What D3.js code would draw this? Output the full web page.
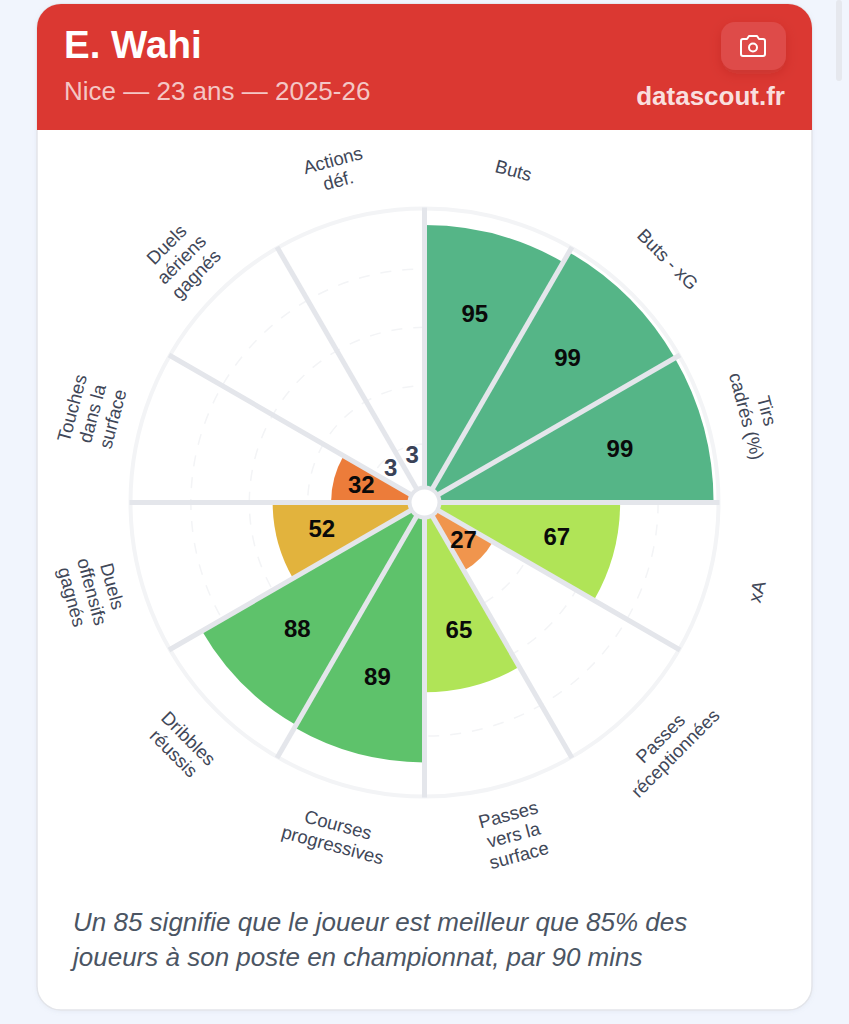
<!DOCTYPE html>
<html><head><meta charset="utf-8">
<script src="https://cdn.jsdelivr.net/npm/d3@7"></script>
<style>html,body{margin:0;padding:0;background:#f1f5fd;overflow:hidden}svg{display:block}</style>
</head><body><svg id="c" width="849" height="1024"></svg>
<script>
const categories=[["Buts"],["Buts - xG"],["Tirs","cadrés (%)"],["xA"],["Passes","réceptionnées"],["Passes","vers la","surface"],["Courses","progressives"],["Dribbles","réussis"],["Duels","offensifs","gagnés"],["Touches","dans la","surface"],["Duels","aériens","gagnés"],["Actions","déf."]];
const values=[95,99,99,67,27,65,89,88,52,32,3,3];
const barColors=["#55b587","#55b587","#55b587","#b0e457","#f0954d","#b0e457","#5ec26b","#5ec26b","#e2b33d","#ec7c3a","#ef6c3a","#ef6c3a"];
const gridValues=[20,40,60,80];
const title="E. Wahi", subtitle="Nice — 23 ans — 2025-26", brand="datascout.fr";
const note=["Un 85 signifie que le joueur est meilleur que 85% des","joueurs à son poste en championnat, par 90 mins"];

const F='"Liberation Sans",Arial,sans-serif';
const svg=d3.select("#c");
const defs=svg.append("defs");
const sh=defs.append("filter").attr("id","sh").attr("x","-20%").attr("y","-20%").attr("width","140%").attr("height","140%");
sh.append("feDropShadow").attr("dx",0).attr("dy",1).attr("stdDeviation",2).attr("flood-color","#94a3b8").attr("flood-opacity",.12);
const sb=defs.append("filter").attr("id","sb").attr("x","-30%").attr("y","-30%").attr("width","160%").attr("height","170%");
sb.append("feDropShadow").attr("dx",0).attr("dy",4).attr("stdDeviation",6).attr("flood-color","#7f1d1d").attr("flood-opacity",.2);
defs.append("clipPath").attr("id","cardclip").append("rect").attr("x",37).attr("y",4).attr("width",775).attr("height",1006).attr("rx",24);

// page scrollbar
svg.append("rect").attr("x",836).attr("y",0).attr("width",6).attr("height",81).attr("rx",3).attr("fill","#e6e8ee");
// card
svg.append("rect").attr("x",37).attr("y",4).attr("width",775).attr("height",1006).attr("rx",24).attr("fill","#fff").attr("stroke","#e3e5ea").attr("stroke-width",1.5).attr("filter","url(#sh)");
svg.append("g").attr("clip-path","url(#cardclip)").append("rect").attr("x",37).attr("y",4).attr("width",775).attr("height",126).attr("fill","#db3832");
svg.append("text").text(title).attr("x",64).attr("y",58).attr("font-family",F).attr("font-weight",700).attr("font-size",38.5).attr("fill","#fff");
svg.append("text").text(subtitle).attr("x",64).attr("y",100).attr("font-family",F).attr("font-size",26).attr("fill","#fff").attr("fill-opacity",.72);
svg.append("text").text(brand).attr("x",785).attr("y",105).attr("text-anchor","end").attr("font-family",F).attr("font-weight",700).attr("font-size",26).attr("fill","#fff").attr("fill-opacity",.85);
// camera button
svg.append("rect").attr("x",721).attr("y",22).attr("width",65).attr("height",48).attr("rx",14).attr("fill","#de4b49").attr("filter","url(#sb)");
const cam=svg.append("g").attr("transform","translate(753,47)").attr("fill","none").attr("stroke","#fff").attr("stroke-width",2).attr("stroke-linejoin","round");
cam.append("path").attr("d","M-12,-6 Q-12,-8 -10,-8 H-6 L-4,-11 H4 L6,-8 H10 Q12,-8 12,-6 V7 Q12,9 10,9 H-10 Q-12,9 -12,7 Z");
cam.append("circle").attr("r",4).attr("cy",0.5);

// radial chart
const cx=424.5, cy=502.5, R=292;
const rScale=d3.scaleLinear().domain([0,100]).range([0,R]);
const step=2*Math.PI/values.length;
const g=svg.append("g").attr("transform",`translate(${cx},${cy})`);
g.selectAll("circle.grid").data(gridValues).join("circle").attr("class","grid").attr("r",d=>rScale(d)).attr("fill","none").attr("stroke","#f3f4f6").attr("stroke-width",1.5).attr("stroke-dasharray","11 11");
g.append("circle").attr("r",rScale(100)+2).attr("fill","none").attr("stroke","#f3f4f6").attr("stroke-width",4);
const arc=d3.arc().innerRadius(0);
g.selectAll("path.bar").data(values).join("path").attr("class","bar")
 .attr("d",(d,i)=>arc({startAngle:i*step,endAngle:(i+1)*step,outerRadius:rScale(d)}))
 .attr("fill",(d,i)=>barColors[i]);
g.selectAll("line.spoke").data(values).join("line").attr("class","spoke")
 .attr("x1",0).attr("y1",0)
 .attr("x2",(d,i)=>Math.sin(i*step)*(R+3)).attr("y2",(d,i)=>-Math.cos(i*step)*(R+3))
 .attr("stroke","#e4e6eb").attr("stroke-width",5);
g.append("circle").attr("r",15).attr("fill","#fff").attr("stroke","#e4e6eb").attr("stroke-width",4);
// values
g.selectAll("text.val").data(values).join("text").attr("class","val")
 .text(d=>d)
 .attr("x",(d,i)=>Math.sin((i+.5)*step)*Math.max(48,rScale(d)*.7))
 .attr("y",(d,i)=>-Math.cos((i+.5)*step)*Math.max(48,rScale(d)*.7))
 .attr("dy","0.29em").attr("text-anchor","middle").attr("font-family",F).attr("font-weight",700).attr("font-size",24)
 .attr("fill",d=>d<10?"#3a4257":"#0a0a0a");
// category labels
const LR=344, LH=21;
const lab=g.selectAll("g.lab").data(categories).join("g").attr("class","lab")
 .attr("transform",(d,i)=>{const a=(i+.5)*step,deg=a*180/Math.PI;
   const rot=(deg>90&&deg<270)?deg-180:deg;
   return `translate(${Math.sin(a)*LR},${-Math.cos(a)*LR}) rotate(${rot})`;});
lab.selectAll("text").data(d=>d.map((t,j)=>({t,j,n:d.length}))).join("text")
 .text(d=>d.t).attr("y",d=>(d.j-(d.n-1)/2)*LH).attr("dy","0.35em").attr("text-anchor","middle")
 .attr("font-family",F).attr("font-size",18.5).attr("fill","#3f4758");
// note
svg.selectAll("text.note").data(note).join("text").attr("class","note").text(d=>d)
 .attr("x",73).attr("y",(d,i)=>931+i*35).attr("font-family",F).attr("font-style","italic").attr("font-size",26).attr("fill","#4b5563");
</script></body></html>
